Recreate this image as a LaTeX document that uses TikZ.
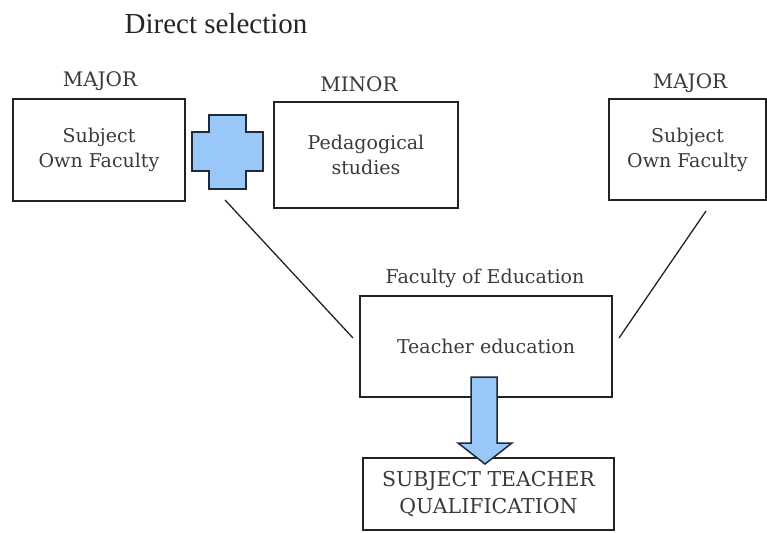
\documentclass[tikz,border=0pt]{standalone}
\usepackage{fontspec}
\setmainfont{DejaVu Serif}
\newfontfamily\titlefont{Liberation Serif}
\definecolor{boxline}{HTML}{222222}
\definecolor{txt}{HTML}{3A3A3A}
\definecolor{plusblue}{HTML}{99C8F8}
\definecolor{shapeline}{HTML}{1E2A38}
\begin{document}
\begin{tikzpicture}[x=1pt,y=-1pt,
  box/.style={draw=boxline, line width=1.6pt, inner sep=0pt, align=center,
    text=txt, font=\fontsize{19}{25}\selectfont},
  caption/.style={inner sep=0pt, text=txt, font=\fontsize{20}{24}\selectfont},
  conn/.style={draw=boxline, line width=1.3pt},
  bluefill/.style={fill=plusblue, draw=shapeline, line width=1.5pt, line join=miter}]
\useasboundingbox (0,0) rectangle (767,532);

% title
\node[inner sep=0pt, text=black!85, font=\titlefont\fontsize{29}{32}\selectfont, anchor=base]
  (title) at (216,34) {Direct selection};

% subject boxes in the top row
\node[box, minimum width=172pt, minimum height=102pt] (major1) at (99,150) {Subject\\Own Faculty};
\node[box, minimum width=184pt, minimum height=106pt] (minor) at (366,155) {Pedagogical\\studies};
\node[box, minimum width=157pt, minimum height=101pt] (major2) at (687.5,149.5) {Subject\\Own Faculty};

\node[caption] (lmajor1) at (100,81) {MAJOR};
\node[caption] (lminor) at (359,84) {MINOR};
\node[caption] (lmajor2) at (690,83) {MAJOR};

% teacher education and qualification
\node[box, minimum width=252pt, minimum height=101pt] (edu) at (486,346.5) {Teacher education};
\node[caption, font=\fontsize{19}{24}\selectfont] (ledu) at (485,278) {Faculty of Education};
\node[box, minimum width=251pt, minimum height=72pt, font=\fontsize{20.5}{27}\selectfont]
  (qual) at (488.5,494) {SUBJECT TEACHER\\QUALIFICATION};

% connectors from the major boxes to teacher education
\coordinate (c1a) at (225,200);
\coordinate (c1b) at (353,338);
\coordinate (c2a) at (706,211);
\coordinate (c2b) at (619,338);
\draw[conn] (c1a) -- (c1b);
\draw[conn] (c2a) -- (c2b);

% plus sign between major and minor
\draw[bluefill] (209,115) -- (246,115) -- (246,132) -- (263,132) -- (263,171)
  -- (246,171) -- (246,189) -- (209,189) -- (209,171) -- (192,171)
  -- (192,132) -- (209,132) -- cycle;

% down arrow to the qualification
\draw[bluefill] (471,377) -- (497,377) -- (497,443) -- (512,443) -- (485,464)
  -- (458,443) -- (471,443) -- cycle;
\end{tikzpicture}
\end{document}
